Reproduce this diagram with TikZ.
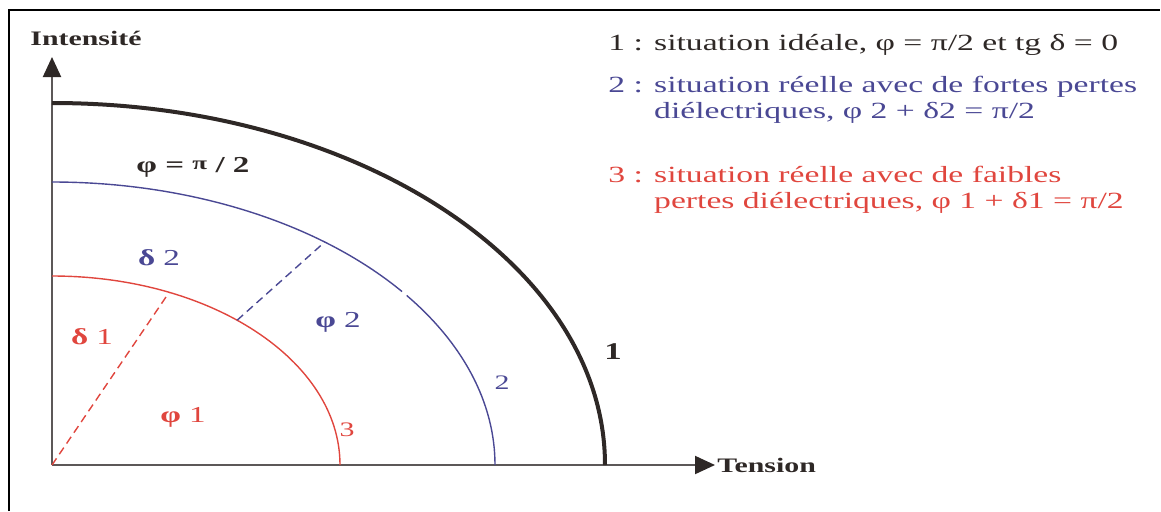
\documentclass[tikz,border=0pt]{standalone}
\usepackage{fontspec}
\setmainfont{Liberation Serif}[FakeStretch=1.45]
\usetikzlibrary{arrows.meta}
\definecolor{ink}{HTML}{2E2826}
\definecolor{loss2}{HTML}{4A4894}
\definecolor{loss3}{HTML}{E0463E}
\definecolor{axisgray}{HTML}{5C5858}

\begin{document}
\begin{tikzpicture}[x=0.5pt, y=0.5pt,
  axisline/.style={line width=1pt, axisgray, -{Triangle[length=10pt, width=9pt, color=ink]}},
  ideal/.style={line width=2pt, ink},
  curve2/.style={line width=0.7pt, loss2},
  curve3/.style={line width=0.7pt, loss3},
  radial/.style={line width=0.7pt, dash pattern=on 4pt off 2.5pt},
  axislabel/.style={font=\fontsize{10.3}{12}\selectfont\bfseries, text=ink, inner sep=1pt},
  legend/.style={font=\fontsize{11.6}{13}\selectfont, anchor=west, align=left, inner sep=0pt},
  tag/.style={font=\fontsize{11.4}{13}\selectfont, inner sep=1pt},
]

\useasboundingbox (-52,-46) rectangle (1109,465);
\draw[line width=1pt] (-43,-46) -- (-43,455) -- (1108,455);

\coordinate (O) at (0,0);
\coordinate (ytop) at (0,408);
\coordinate (xend) at (663,0);
\coordinate (c3a) at (66:288 and 189);
\coordinate (c3b) at (50:288 and 189);
\coordinate (c2b) at (52:443 and 283);

\draw[axisline] (O) -- (ytop);
\draw[axisline] (O) -- (xend);

\draw[ideal] (0,362) arc[start angle=90, end angle=0, x radius=553, y radius=362];
\draw[curve2] (0,283) arc[start angle=90, end angle=37.8, x radius=443, y radius=283];
\draw[curve2] (36.8:443 and 283) arc[start angle=36.8, end angle=0, x radius=443, y radius=283];
\draw[curve3] (0,189) arc[start angle=90, end angle=0, x radius=288, y radius=189];

\draw[radial, loss3] (O) -- (c3a);
\draw[radial, loss2] (c3b) -- (c2b);

\node[axislabel] (intensite) at (34,427) {Intensité};
\node[axislabel, anchor=west] (tension) at (xend) {Tension};

\node[axislabel, font=\fontsize{11.4}{13}\selectfont\bfseries] (phipi) at (141,298) {φ = \raisebox{1.5pt}{\fontsize{9.3}{10}\selectfont π} / 2};
\node[tag, text=loss2] (delta2) at (107,207) {\textbf{δ} 2};
\node[tag, text=loss3] (delta1) at (40,128) {\textbf{δ} 1};
\node[tag, text=loss2] (phi2) at (286,143) {\textbf{φ} 2};
\node[tag, text=loss3] (phi1) at (131,48) {\textbf{φ} 1};
\node[tag, text=loss3, font=\fontsize{10.3}{12}\selectfont] (lab3) at (295,35) {3};
\node[tag, text=loss2, font=\fontsize{10.3}{12}\selectfont] (lab2) at (450,82) {2};
\node[axislabel, font=\fontsize{12}{13}\selectfont\bfseries] (lab1) at (561,113) {1};

\node[legend, text=ink] (leg1) at (556,420) {1 : situation idéale, φ = π/2 et tg δ = 0};
\node[legend, text=loss2] (leg2) at (556,365) {2 : situation réelle avec de fortes pertes\\\phantom{2 : }diélectriques, φ 2 + δ2 = π/2};
\node[legend, text=loss3] (leg3) at (556,275) {3 : situation réelle avec de faibles\\\phantom{3 : }pertes diélectriques, φ 1 + δ1 = π/2};

\end{tikzpicture}
\end{document}
